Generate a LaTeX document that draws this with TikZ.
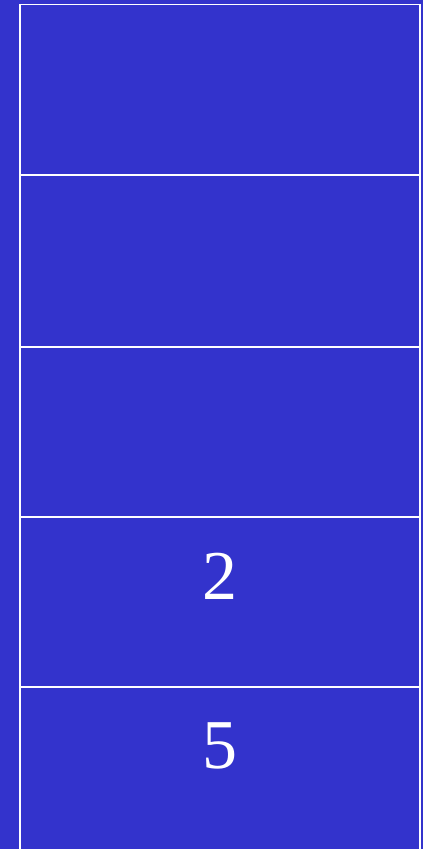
\documentclass[tikz,border=0pt]{standalone}
\usepackage{fontspec}
\setmainfont{Liberation Serif}
\definecolor{stackblue}{HTML}{3333CC}
\tikzset{
  cell/.style={draw=white, line width=1.5pt, fill=stackblue, minimum width=400pt, inner sep=0pt, outer sep=0pt, anchor=north west},
  digit/.style={text=white, font=\fontsize{70}{70}\selectfont, inner sep=0pt}
}
\begin{document}
\begin{tikzpicture}[x=1pt, y=-1pt]
    \fill[stackblue] (0,0) rectangle (423,849);
    \useasboundingbox (0,0) rectangle (423,849);

    % stack cells, top to bottom
    \node[cell, minimum height=170.5pt] (c1) at (20,4.5) {};
    \node[cell, minimum height=172pt] (c2) at (20,175) {};
    \node[cell, minimum height=170.5pt] (c3) at (20,347) {};
    \node[cell, minimum height=170pt] (c4) at (20,517) {};
    \node[cell, minimum height=172pt] (c5) at (20,687) {};

    \node[digit] (v4) at (220,576.5) {2};
    \node[digit] (v5) at (220,745.5) {5};
\end{tikzpicture}
\end{document}
